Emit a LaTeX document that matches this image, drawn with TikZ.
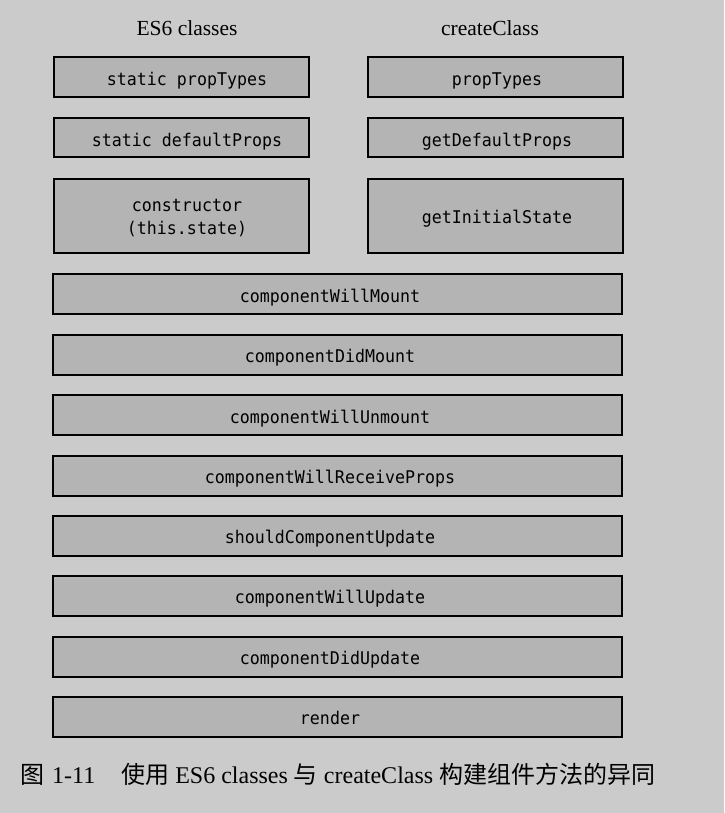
\documentclass[tikz,border=0pt]{standalone}
\usepackage{fontspec}
\setmainfont{Liberation Serif}
\setmonofont[FakeStretch=0.95]{DejaVu Sans Mono}
\newfontfamily\cjk{Noto Sans CJK SC}
\usetikzlibrary{positioning}
\definecolor{bggray}{HTML}{CBCBCB}
\definecolor{boxgray}{HTML}{B4B4B4}

\begin{document}
\begin{tikzpicture}[x=1pt,y=-1pt,
    method/.style={
           rectangle,
           draw=black,
           fill=boxgray,
           line width=2pt,
           minimum width=255pt,
           minimum height=40pt,
           inner sep=0pt,
           align=center,
           text depth=0pt,
         font=\fontsize{17.5}{23}\ttfamily},
    wide/.style={method,minimum width=569pt},
    widetext/.style={font=\fontsize{17.5}{23}\ttfamily,text depth=0pt,
         inner sep=0pt,xshift=-7.7pt,yshift=-1.5pt},
    title/.style={font=\fontsize{21.5}{26}\selectfont}]

  \fill[bggray] (0,0) rectangle (724,813);

  \path (187,28) node(es6) [title] {ES6 classes}
  (490,28) node(cc) [title] {createClass};

  \path (181,77.5) node(sptypes) [method,label={[widetext,xshift=13.7pt]center:static propTypes}] {}
  (181,138) node(sdefprops) [method,minimum height=39pt,label={[widetext,xshift=13.7pt]center:static defaultProps}] {}
  (181,215.7) node(ctor) [method,minimum height=74pt,label={[widetext,xshift=13.7pt,align=center]center:constructor\\(this.state)}] {}
  (495,77.5) node(ptypes) [method,label={[widetext,xshift=9.7pt]center:propTypes}] {}
  (495,138) node(getdef) [method,minimum height=39pt,label={[widetext,xshift=9.7pt]center:getDefaultProps}] {}
  (495,215.7) node(getinit) [method,minimum height=74pt,label={[widetext,xshift=9.7pt]center:getInitialState}] {};

  %common lifecycle methods
  \path (337.7,294) node(willmount) [wide,label={[widetext]center:componentWillMount}] {}
  (337.7,354.5) node(didmount) [wide,label={[widetext]center:componentDidMount}] {}
  (337.7,415) node(willunmount) [wide,label={[widetext]center:componentWillUnmount}] {}
  (337.7,475.5) node(willrecv) [wide,label={[widetext]center:componentWillReceiveProps}] {}
  (337.7,535.5) node(shouldupd) [wide,label={[widetext]center:shouldComponentUpdate}] {}
  (337.7,595.5) node(willupd) [wide,label={[widetext]center:componentWillUpdate}] {}
  (337.7,656.5) node(didupd) [wide,label={[widetext]center:componentDidUpdate}] {}
  (337.7,716.5) node(render) [wide,label={[widetext]center:render}] {};

  \path (20,783) node(caption) [anchor=base west,inner sep=0pt,font=\fontsize{24}{28}\selectfont]
  {{\cjk 图}\hspace{8pt}1-11\hspace{26pt}{\cjk 使用} ES6 classes {\cjk 与} createClass {\cjk 构建组件方法的异同}};

\end{tikzpicture}
\end{document}
